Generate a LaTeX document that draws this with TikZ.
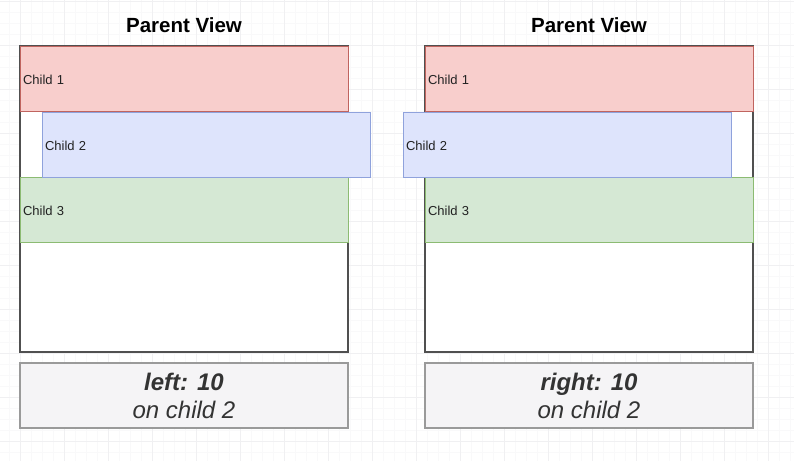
\documentclass[tikz,border=0pt]{standalone}
\usepackage{fontspec}
\setmainfont{Liberation Sans}
\definecolor{gridminor}{HTML}{F9F9FA}
\definecolor{gridmajor}{HTML}{F0F0F2}
\definecolor{redfill}{HTML}{F8CECC}
\definecolor{redline}{HTML}{C0645F}
\definecolor{bluefill}{HTML}{DEE4FC}
\definecolor{blueline}{HTML}{8FA2DC}
\definecolor{greenfill}{HTML}{D5E8D4}
\definecolor{greenline}{HTML}{8CBB72}
\definecolor{notefill}{HTML}{F5F4F6}
\definecolor{noteline}{HTML}{9A9A9A}
\definecolor{parentline}{HTML}{505050}
\definecolor{textdark}{HTML}{222222}
\definecolor{textnote}{HTML}{333333}
\tikzset{
  parentbox/.style={draw=parentline, fill=white, line width=1.5pt, minimum width=328pt, minimum height=306pt, inner sep=0pt},
  childbox/.style={line width=1pt, text width=322pt, inner xsep=3pt, inner ysep=0pt, minimum height=65pt, align=left, font=\fontsize{13}{15}\selectfont, text=textdark, text height=11.5pt, text depth=0pt},
  redbox/.style={childbox, draw=redline, fill=redfill},
  bluebox/.style={childbox, draw=blueline, fill=bluefill},
  greenbox/.style={childbox, draw=greenline, fill=greenfill},
  notebox/.style={draw=noteline, fill=notefill, line width=1.2pt, minimum width=328pt, minimum height=65pt, inner sep=0pt, align=center, text=textnote, font=\fontsize{24}{28}\selectfont},
  titletext/.style={font=\fontsize{20.5}{24}\selectfont\bfseries, text=black, inner sep=0pt}
}
\begin{document}
\begin{tikzpicture}[x=1pt,y=-1pt]
\useasboundingbox (0,0) rectangle (794,461);
\fill[white] (0,0) rectangle (794,461);
\foreach \x in {9,20,...,794} \draw[gridminor, line width=0.8pt] (\x,0) -- (\x,461);
\foreach \y in {1,12,...,461} \draw[gridminor, line width=0.8pt] (0,\y) -- (794,\y);
\foreach \x in {20,64,...,794} \draw[gridmajor, line width=0.8pt] (\x,0) -- (\x,461);
\foreach \y in {1,45,...,461} \draw[gridmajor, line width=0.8pt] (0,\y) -- (794,\y);

% left
\node[titletext] (ltitle) at (184,25) {Parent View};
\node[parentbox] (lparent) at (184,199) {};
\node[redbox] (lc1) at (184,78.5) {Child 1};
\node[greenbox] (lc3) at (184,209.5) {Child 3};
\node[bluebox] (lc2) at (206,144.5) {Child 2};
\node[notebox] (lnote) at (184,395.5) {\textbf{\textit{left: 10}}\\\textit{on child 2}};

% right
\node[titletext] (rtitle) at (589,25) {Parent View};
\node[parentbox] (rparent) at (589,199) {};
\node[redbox] (rc1) at (589,78.5) {Child 1};
\node[greenbox] (rc3) at (589,209.5) {Child 3};
\node[bluebox] (rc2) at (567,144.5) {Child 2};
\node[notebox] (rnote) at (589,395.5) {\textbf{\textit{right: 10}}\\\textit{on child 2}};
\end{tikzpicture}
\end{document}
